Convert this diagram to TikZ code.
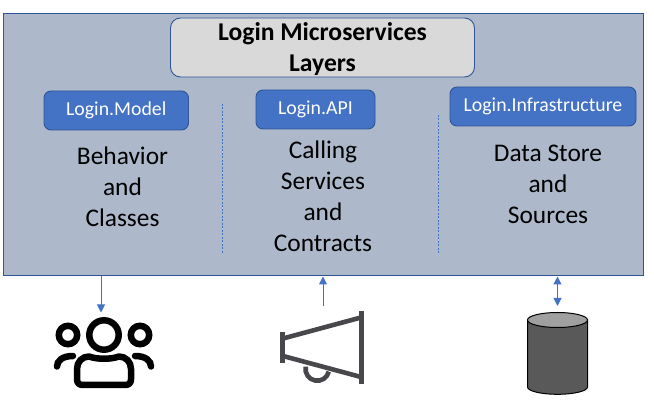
\documentclass[tikz,border=0pt]{standalone}
\usepackage{fontspec}
\setmainfont{Carlito}
\usetikzlibrary{arrows.meta}
\definecolor{panelfill}{HTML}{ADB9CA}
\definecolor{edgeblue}{HTML}{2F5597}
\definecolor{accent}{HTML}{4472C4}
\definecolor{titlefill}{HTML}{D9D9D9}
\definecolor{horn}{HTML}{48484C}
\definecolor{drumside}{HTML}{595959}
\definecolor{drumtop}{HTML}{A0A0A0}
\tikzset{
  x=1pt,y=-1pt,
  panelbox/.style={draw=edgeblue,line width=1pt,fill=panelfill,minimum width=640pt,minimum height=262.5pt,inner sep=0pt},
  titlebox/.style={draw=edgeblue,line width=0.9pt,fill=titlefill,rounded corners=10pt,minimum width=304pt,minimum height=59pt,inner sep=0pt,align=center,font=\fontsize{25.6}{31}\selectfont\bfseries,text=black},
  layerbox/.style={draw=edgeblue,line width=0.9pt,fill=accent,rounded corners=7pt,minimum height=39pt,inner sep=0pt,text=white,font=\fontsize{19.8}{22}\selectfont},
  bodytext/.style={align=center,inner sep=0pt,text=black,font=\fontsize{25.4}{31}\selectfont},
  divider/.style={accent,line width=0.75pt,densely dashed,dash pattern=on 2pt off 1.5pt},
  flow/.style={accent,line width=1pt,-{Triangle[length=8pt,width=8pt]}},
  flowboth/.style={accent,line width=1pt,{Triangle[length=8pt,width=8pt]}-{Triangle[length=8pt,width=8pt]}},
  icon/.style={black,line width=6.5pt,line cap=round},
  hornline/.style={horn,line width=4.6pt},
}
\begin{document}
\begin{tikzpicture}
\useasboundingbox (0,0) rectangle (654,419);
\node[panelbox] (panel) at (323.5,144.75) {};
\node[titlebox] (title) at (322.5,47.5) {};
\node[align=center,inner sep=0pt,font=\fontsize{25.6}{31}\selectfont\bfseries,text=black] (titletext) at (322.5,48.7) {Login Microservices\\Layers};
\node[layerbox,minimum width=144.5pt] (model) at (116.25,110.5) {Login.Model};
\node[layerbox,minimum width=119pt] (api) at (315.5,109.5) {Login.API};
\node[layerbox,minimum width=186pt] (infra) at (543,106.5) {Login.Infrastructure};
\node[bodytext] (t1) at (122.5,186.7) {Behavior\\and\\Classes};
\node[bodytext] (t2) at (323,196.3) {Calling\\Services\\and\\Contracts};
\node[bodytext] (t3) at (548,184.5) {Data Store\\and\\Sources};
\coordinate (d1a) at (222.5,104); \coordinate (d1b) at (222.5,253);
\coordinate (d2a) at (438,115); \coordinate (d2b) at (438,253);
\draw[divider] (d1a) -- (d1b);
\draw[divider] (d2a) -- (d2b);
% connectors
\coordinate (people) at (101,312.5);
\coordinate (hornTop) at (323,306);
\coordinate (drum) at (557.5,306);
\draw[flow] (panel.south -| people) -- (people);
\draw[flow] (hornTop) -- (panel.south -| hornTop);
\draw[flowboth] (panel.south -| drum) -- (drum);
% people icon
\draw[icon] (104,335) circle (14.7);
\draw[icon] (68,335) circle (9.2);
\draw[icon] (140,335) circle (9.2);
\draw[icon,line join=round] (89,356.5) .. controls (97,359.5) and (111,359.5) .. (119,356.5)
  .. controls (126,356.5) and (131,362) .. (131,369) -- (131,379)
  .. controls (131,383) and (129,385) .. (125,385) -- (83,385)
  .. controls (79,385) and (77,383) .. (77,379) -- (77,369)
  .. controls (77,362) and (82,356.5) .. (89,356.5) -- cycle;
\draw[icon] (57,366.5) .. controls (57,361) and (62,356) .. (73,356);
\draw[icon] (151,366.5) .. controls (151,361) and (146,356) .. (135,356);
% megaphone
\draw[hornline] (283,338.5) -- (361,317.5);
\draw[hornline] (283,356) -- (361,377);
\draw[hornline] (305.7,366.7) arc[start angle=191,end angle=13,radius=11.8];
\draw[hornline] (282.3,331.7) -- (282.3,362.7);
\draw[hornline] (361.7,311) -- (361.7,383.7);
% cylinder
\draw[black,line width=1pt,fill=drumside] (527.5,320) -- (527.5,387) arc[start angle=180,end angle=360,x radius=30,y radius=-7.3] -- (587.5,320) -- cycle;
\draw[black,line width=1pt,fill=drumtop] (557.5,320) ellipse[x radius=30,y radius=7.5];
\end{tikzpicture}
\end{document}
